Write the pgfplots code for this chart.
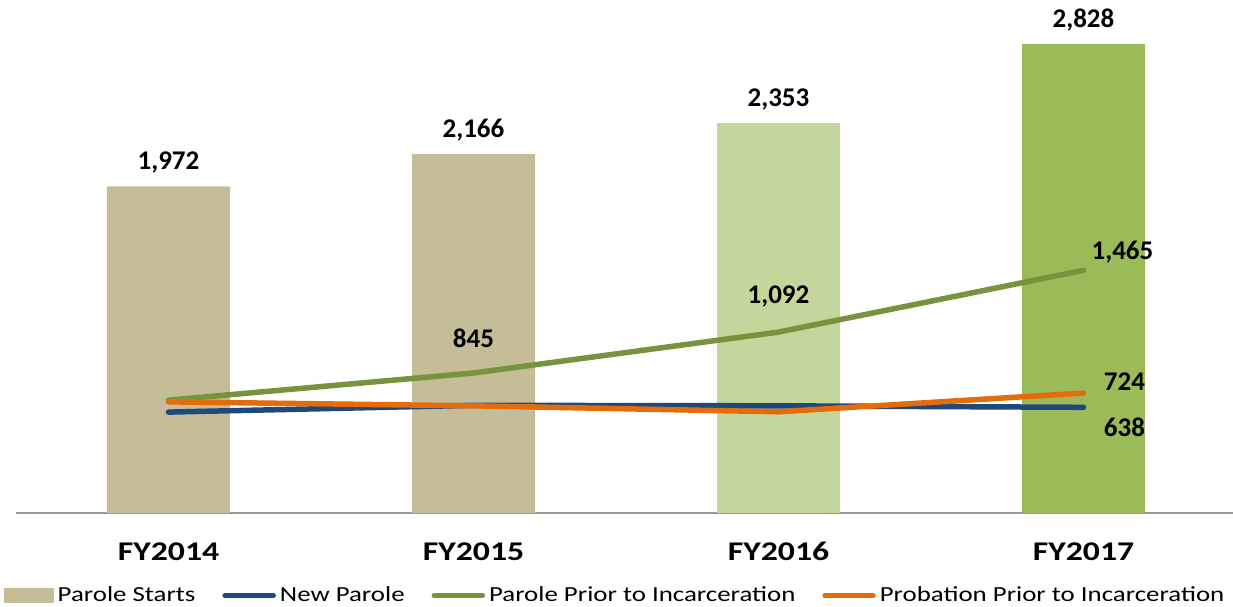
\documentclass[border=0pt]{standalone}
\usepackage{pgfplots}
\pgfplotsset{compat=1.18}
\usepackage{fontspec}
\setmainfont{Carlito}
\newfontfamily\widefont{Carlito}[FakeStretch=1.25]
\definecolor{tanb}{HTML}{C4BD97}
\definecolor{lgreen}{HTML}{C3D69B}
\definecolor{mgreen}{HTML}{9BBB59}
\definecolor{nblue}{HTML}{1F497D}
\definecolor{pgreen}{HTML}{77933C}
\definecolor{porange}{HTML}{E46C0A}
\begin{document}
\begin{tikzpicture}
\useasboundingbox (0,0) rectangle (616.5pt,303pt);
\begin{axis}[
  at={(8pt,46.5pt)}, anchor=south west,
  scale only axis, width=610pt, height=248.5pt,
  xmin=-0.5, xmax=3.5, ymin=0, ymax=3000,
  axis x line=bottom, axis y line=none,
  x axis line style={draw=gray!80, line width=1pt, -},
  xtick={0,1,2,3}, xticklabels={FY2014,FY2015,FY2016,FY2017},
  xtick style={draw=none},
  xticklabel style={font=\widefont\fontsize{13.5}{16}\selectfont\bfseries, yshift=-9pt},
  ytick=\empty,
  clip=false,
  legend columns=4,
  legend style={at={(0.5,-46.5pt)}, anchor=south, yshift=-1.5pt, xshift=-5pt, draw=none, fill=none,
    font=\widefont\fontsize{10.75}{13}\selectfont, column sep=0pt, inner sep=0pt,
    /tikz/every even column/.append style={column sep=11.5pt}},
  legend cell align=left,
]
\addplot[ybar, bar width=61.5pt, bar shift=0pt, fill=tanb, draw=none,
  nodes near coords, every node near coord/.append style={font=\fontsize{13.5}{16}\selectfont\bfseries, yshift=3pt},
  nodes near coords={\pgfmathprintnumber[fixed, 1000 sep={,}, assume math mode=true]{\pgfplotspointmeta}},
  area legend, legend image code/.code={\fill[tanb] (0pt,-3.75pt) rectangle (25pt,3.75pt);}]
  coordinates {(0,1972) (1,2166)};
\addlegendentry{Parole Starts}
\addplot[ybar, bar width=61.5pt, bar shift=0pt, fill=lgreen, draw=none, forget plot,
  nodes near coords, every node near coord/.append style={font=\fontsize{13.5}{16}\selectfont\bfseries, yshift=3pt},
  nodes near coords={\pgfmathprintnumber[fixed, 1000 sep={,}, assume math mode=true]{\pgfplotspointmeta}}]
  coordinates {(2,2353)};
\addplot[ybar, bar width=61.5pt, bar shift=0pt, fill=mgreen, draw=none, forget plot,
  nodes near coords, every node near coord/.append style={font=\fontsize{13.5}{16}\selectfont\bfseries, yshift=3pt},
  nodes near coords={\pgfmathprintnumber[fixed, 1000 sep={,}, assume math mode=true]{\pgfplotspointmeta}}]
  coordinates {(3,2828)};
\addplot[nblue, line width=2.75pt, line cap=round, no markers,
  legend image code/.code={\draw[nblue, line width=2.5pt, line cap=round] (1.25pt,0pt) -- (25.5pt,0pt);}]
  coordinates {(0,609) (1,650) (2,647) (3,638)};
\addlegendentry{New Parole}
\addplot[pgreen, line width=2.75pt, line cap=round, no markers,
  legend image code/.code={\draw[pgreen, line width=2.5pt, line cap=round] (1.25pt,0pt) -- (25.5pt,0pt);}]
  coordinates {(0,681) (1,845) (2,1092) (3,1465)};
\addlegendentry{Parole Prior to Incarceration}
\addplot[porange, line width=2.75pt, line cap=round, no markers,
  legend image code/.code={\draw[porange, line width=2.5pt, line cap=round] (1.25pt,0pt) -- (25.5pt,0pt);}]
  coordinates {(0,671) (1,647) (2,611) (3,724)};
\addlegendentry{Probation Prior to Incarceration}
\node[font=\fontsize{13.5}{16}\selectfont\bfseries] at (axis cs:1,845) [yshift=17.5pt] {845};
\node[font=\fontsize{13.5}{16}\selectfont\bfseries] at (axis cs:2,1092) [yshift=18pt] {1,092};
\node[font=\fontsize{13.5}{16}\selectfont\bfseries] at (axis cs:3,1465) [xshift=19.5pt, yshift=9pt] {1,465};
\node[font=\fontsize{13.5}{16}\selectfont\bfseries] at (axis cs:3,724) [xshift=20.5pt, yshift=5.5pt] {724};
\node[font=\fontsize{13.5}{16}\selectfont\bfseries] at (axis cs:3,638) [xshift=20.5pt, yshift=-10pt] {638};
\end{axis}
\end{tikzpicture}
\end{document}
